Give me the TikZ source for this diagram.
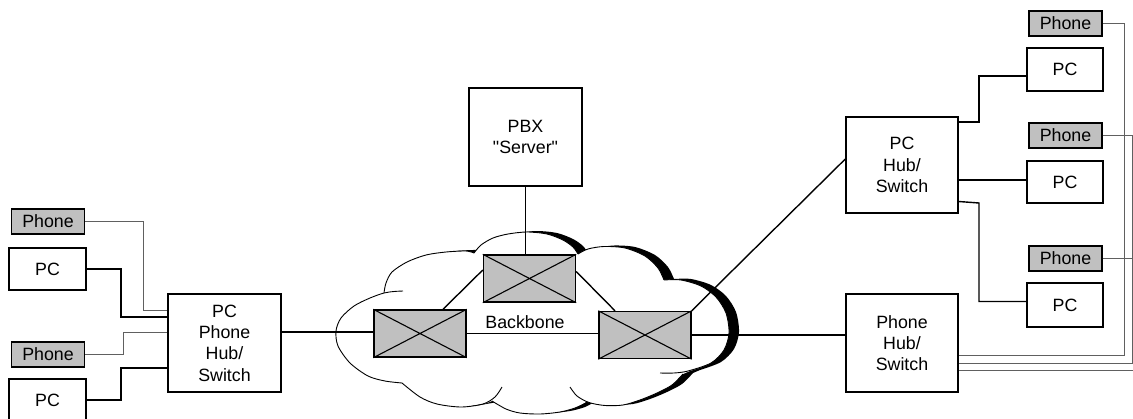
\documentclass[tikz,border=0pt]{standalone}
\usepackage{fontspec}
\setmainfont{Liberation Sans}[Ligatures=TeXOff]
\usetikzlibrary{calc}

\definecolor{boxgray}{RGB}{192,192,192}
\definecolor{wiregray}{RGB}{96,96,96}
\newcommand\lblfont{\fontsize{17.8}{21.3}\selectfont}

% outline of the backbone cloud (closed, used for the fill and the shadow)
\newcommand\cloudfill{%
  plot[smooth] coordinates {(402,383) (385,381) (368,376) (350,363) (338,346) (336,331) (341,318) (354,306) (370,298) (384,293)}
  -- plot[smooth] coordinates {(384,293) (386,283) (392,272) (407,262) (426,255) (446,252) (466,251) (474,253)}
  -- plot[smooth] coordinates {(474,253) (481,245) (493,238) (508,234) (527,232) (547,234) (563,240) (573,247) (578,254)}
  -- plot[smooth] coordinates {(578,254) (588,249) (604,246.5) (625,248) (645,256) (658,268) (664,280)}
  -- plot[smooth] coordinates {(664,280) (681,280) (701,286) (716,297) (726,313) (729,333) (724,350) (711,363) (690,371)}
  -- plot[smooth] coordinates {(683,374) (672,385) (657,393) (640,400) (623,405) (605,405.5) (586,402)}
  -- plot[smooth] coordinates {(586,402) (575,408) (560,412) (540,414) (520,413) (506,409) (492,401)}
  -- plot[smooth] coordinates {(487,403) (461,407) (437,404) (420,397) (402,383)}
  -- cycle}

\begin{document}
\begin{tikzpicture}[x=1pt,y=-1pt,
  box/.style={draw,line width=1.4pt,inner sep=0pt,align=center,font=\lblfont},
  phonebox/.style={box,fill=boxgray,minimum width=73pt,minimum height=25pt},
  pcbox/.style={box,minimum width=77pt,minimum height=42pt},
  hubbox/.style={box,minimum width=113pt,minimum height=98pt},
  switchbox/.style={draw,line width=1.4pt,fill=boxgray,inner sep=0pt,minimum width=92pt,minimum height=47pt},
  xline/.style={line width=1.1pt},
  wire/.style={line width=1.4pt},
  phonewire/.style={line width=1pt,draw=wiregray},
  cloudline/.style={line width=0.9pt}]

\useasboundingbox (0,0) rectangle (1133,418);
\clip (0,0) rectangle (1133,418);

% cloud: black shadow, white body, bump outlines with their inner curls
\fill[black,xshift=10pt,yshift=1pt] \cloudfill;
\fill[white] \cloudfill;
\begin{scope}[cloudline]
  \draw plot[smooth] coordinates {(402,383) (385,381) (368,376) (350,363) (338,346) (336,331) (341,318) (354,306) (370,298) (384,293) (394,291.5) (403,291)};
  \draw plot[smooth] coordinates {(384,293) (386,283) (392,272) (407,262) (426,255) (446,252) (466,251) (474,253)};
  \draw plot[smooth] coordinates {(474,253) (481,245) (493,238) (508,234) (527,232) (547,234) (563,240) (573,247) (578,254)};
  \draw plot[smooth] coordinates {(578,254) (588,249) (604,246.5) (625,248) (645,256) (658,268) (664,280)};
  \draw plot[smooth] coordinates {(664,280) (681,280) (701,286) (716,297) (726,313) (729,333) (724,350) (711,363) (688,371) (674,373) (660,373)};
  \draw plot[smooth] coordinates {(683,374) (672,385) (657,393) (640,400) (623,405) (605,405.5) (589,402.5) (577,396) (570,387)};
  \draw plot[smooth] coordinates {(588,402) (575,408) (560,412) (540,414) (520,413) (506,409) (492,401)};
  \draw plot[smooth] coordinates {(402,383) (420,397) (437,404) (461,407) (483,404) (495,397) (502,387)};
\end{scope}

% left side
\node[phonebox] (ph1) at (48,221.5) {Phone};
\node[pcbox]    (pc1) at (47.5,269) {PC};
\node[phonebox] (ph2) at (48,354.5) {Phone};
\node[pcbox]    (pc2) at (47.5,400) {PC};
\node[hubbox]   (hubL) at (224.5,343) {PC\\Phone\\Hub/\\Switch};

% backbone
\node[switchbox] (sw1) at (420,333.5) {};
\node[switchbox] (sw2) at (529.5,278.5) {};
\node[switchbox] (sw3) at (645,335) {};
\node[font=\lblfont] (bb) at (525,322) {Backbone};
\node[hubbox] (pbx) at (525.5,137) {PBX\\"Server"};

% right side
\node[hubbox,minimum width=112pt,minimum height=96pt] (hubPC) at (902,165) {PC\\Hub/\\Switch};
\node[hubbox,minimum width=112pt] (hubPh) at (902,343) {Phone\\Hub/\\Switch};
\node[phonebox] (phR1) at (1065.5,23.5) {Phone};
\node[pcbox,minimum width=76pt,minimum height=43pt] (pcR1) at (1065,69.5) {PC};
\node[phonebox] (phR2) at (1065.5,135.5) {Phone};
\node[pcbox,minimum width=76pt] (pcR2) at (1065,182) {PC};
\node[phonebox] (phR3) at (1065.5,258.5) {Phone};
\node[pcbox,minimum width=76pt,minimum height=44pt] (pcR3) at (1065,305) {PC};

% crosses inside the switches
\foreach \s in {sw1,sw2,sw3}
  \draw[xline] (\s.north west) -- (\s.south east) (\s.south west) -- (\s.north east);

% left connections
\draw[phonewire] (ph1.east) -| (143,310) -- (hubL.west |- 0,310);
\draw[wire] (pc1.east) -| (121,317) -- (hubL.west |- 0,317);
\draw[phonewire] (ph2.east) -| (123,332) -- (hubL.west |- 0,332);
\draw[wire] (pc2.east) -| (121,368) -- (hubL.west |- 0,368);
\draw[wire] (hubL.east |- 0,332) -- (sw1.west |- 0,332);

% backbone links
\draw[wire] (sw1.east) -- (sw1.east -| sw3.west);
\draw[wire] ($(sw1.north)+(23,0)$) -- ($(sw2.west)+(0,-8.5)$);
\draw[wire] ($(sw2.east)+(0,-7)$) -- ($(sw3.north)+(-30,0)$);
\draw[wire] (pbx.south) -- (pbx.south |- sw2.north);
\draw[wire] (sw3.north east) -- ($(hubPC.west)+(0,-6)$);
\draw[wire] (sw3.east) -- (sw3.east -| hubPh.west);

% PC hub to PCs
\draw[wire] (hubPC.east |- 0,122) -| (979,76) -- (pcR1.west |- 0,76);
\draw[wire] (hubPC.east |- 0,180) -- (pcR2.west |- 0,180);
\draw[wire] (hubPC.east |- 0,201.5) -- (979,203) -- (979,301.5) -- (pcR3.west |- 0,301.5);

% phone hub to phones
\draw[phonewire] (phR1.east) -| (1124,355.7) -- (hubPh.east |- 0,355.7);
\draw[phonewire] (phR2.east) -| (1132,363) -- (hubPh.east |- 0,363);
\draw[phonewire] (phR3.east) -| (1137,370) -- (hubPh.east |- 0,370);
\end{tikzpicture}
\end{document}
